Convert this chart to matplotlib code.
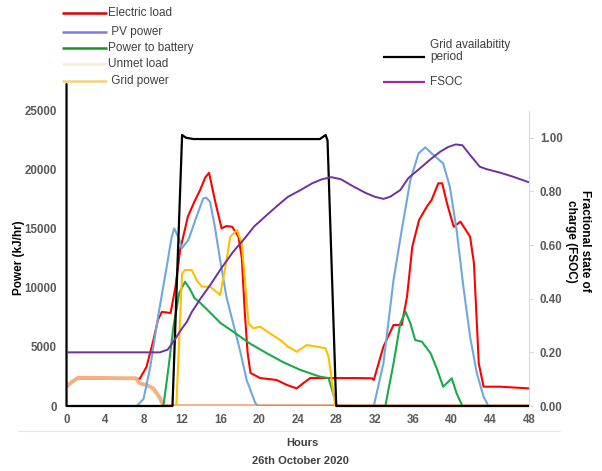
import matplotlib
matplotlib.use("Agg")
import matplotlib.pyplot as plt
from matplotlib.lines import Line2D

plt.rcParams["font.family"] = ["Liberation Sans", "DejaVu Sans"]
plt.rcParams["lines.solid_joinstyle"] = "round"
plt.rcParams["lines.solid_capstyle"] = "round"

# electric load (kJ/hr)
load_h = [0, 0.5, 1.2, 4, 7, 7.6, 8.3, 9.0, 9.5, 9.9, 10.4, 10.8, 11.3, 11.8, 12.6,
          13.3, 13.9, 14.4, 14.8, 15.4, 16.1, 16.6, 17.2, 17.85, 18.2, 18.5, 18.8,
          19.1, 20.1, 21.8, 22.9, 23.9, 24.6, 25.3, 27.4, 30, 31.7, 31.9, 32.9, 33.95,
          34.8, 35.35, 35.9, 36.6, 37.4, 37.9, 38.6, 39.0, 39.5, 40.2, 40.9, 41.9,
          42.3, 42.8, 43.3, 45, 48]
load = [1630, 2000, 2340, 2300, 2300, 2300, 3300, 5500, 7300, 7950, 7900, 7850, 10000,
        13200, 16000, 17300, 18300, 19300, 19700, 17400, 15000, 15200, 15140, 14300,
        12500, 8000, 4500, 2790, 2360, 2200, 1770, 1490, 1940, 2360, 2360, 2360,
        2340, 2200, 5010, 6840, 6840, 9230, 13460, 15710, 16830, 17400, 18810, 18810,
        17120, 15140, 15570, 14300, 12050, 3600, 1630, 1630, 1490]

# PV power
pv_h = [0, 7.3, 8.0, 8.7, 9.5, 10.4, 10.9, 11.17, 11.6, 11.97, 12.65, 13.5, 14.2,
        14.5, 14.9, 15.4, 15.95, 16.6, 17.3, 18.0, 18.7, 19.6, 19.9, 31.9, 32.9,
        33.95, 34.8, 35.7, 36.55, 37.25, 38.1, 39.1, 39.8, 40.5, 41.2, 41.9, 42.6,
        43.3, 43.8, 48]
pv = [0, 0, 600, 3320, 7540, 11760, 14200, 15000, 14300, 13320, 14020, 16000, 17540,
      17600, 17250, 15140, 12330, 9230, 6980, 4730, 2200, 250, 0, 0, 3600, 10640,
      14860, 19090, 21340, 21850, 21200, 20500, 18520, 14860, 10080, 5850, 2760, 790,
      0, 0]

# power to battery
batt_h = [0, 10.06, 10.6, 11.1, 11.7, 12.3, 12.8, 13.3, 13.9, 14.9, 16, 17.3, 19,
          20.8, 22.5, 24.3, 26.3, 27.2, 28.07, 33.1, 33.95, 34.65, 35.2, 35.7, 36.2,
          36.9, 37.8, 38.5, 39.1, 40.0, 40.5, 41.1, 48]
batt = [0, 0, 3320, 6700, 9520, 10500, 9900, 9100, 8700, 7900, 7000, 6280, 5300,
        4450, 3700, 3040, 2480, 2360, 0, 0, 3600, 6980, 7960, 6980, 5570, 5430, 4450,
        3040, 1630, 2340, 1070, 0, 0]

# unmet load
unmet_h = [0, 0.5, 1.2, 6.6, 7.2, 7.6, 8.3, 9.0, 9.7, 10.06, 48]
unmet = [1630, 2000, 2390, 2340, 2340, 1920, 1770, 1490, 675, 0, 0]

# grid power
grid_h = [11.4, 12.0, 12.3, 13.0, 13.5, 14.05, 14.9, 15.95, 16.5, 17.0, 17.7, 18.2,
          18.55, 18.9, 19.4, 20.1, 21.1, 22.2, 23.0, 23.9, 24.95, 26.0, 26.9, 27.2,
          27.9]
grid = [0, 11200, 11490, 11490, 10640, 10080, 10080, 9380, 11760, 14300, 14860, 13740,
        10360, 6980, 6560, 6700, 6140, 5570, 5010, 4590, 5150, 5010, 4870, 4170, 0]

# grid availability (secondary axis)
avail_h = [0, 0, 11.0, 12.0, 12.4, 13.2, 26.3, 26.9, 27.1, 28.0, 48]
avail = [1.2, 0, 0, 1.01, 1.0, 0.995, 0.995, 1.01, 0.99, 0, 0]

# FSOC
soc_h = [0, 9.7, 10.5, 11.1, 12.0, 12.5, 13.0, 13.9, 15, 16, 17.3, 18.5, 19.5, 20.8,
         22, 23, 24.3, 25.5, 26.5, 27.5, 28.5, 29.5, 31, 32, 32.9, 33.6, 34.65, 35.5,
         36.7, 37.8, 38.8, 39.6, 40.4, 41.1, 41.8, 42.9, 43.6, 45, 46.5, 48]
soc = [0.2, 0.2, 0.21, 0.24, 0.29, 0.314, 0.35, 0.40, 0.455, 0.51, 0.575, 0.625, 0.67,
       0.712, 0.75, 0.78, 0.805, 0.83, 0.845, 0.853, 0.845, 0.824, 0.795, 0.78, 0.772,
       0.78, 0.805, 0.85, 0.886, 0.92, 0.948, 0.965, 0.975, 0.972, 0.94, 0.892, 0.883,
       0.87, 0.853, 0.834]

fig = plt.figure(figsize=(6.02, 4.71), dpi=100)
ax = fig.add_axes([0.1105, 0.138, 0.768, 0.656])
ax2 = ax.twinx()

ax.plot(load_h, load, color="#FF0000", lw=1.5)
ax.plot(unmet_h, unmet, color="#F4B183", lw=2.8)
ax.plot(pv_h, pv, color="#6FA8DC", lw=1.5)
ax.plot(batt_h, batt, color="#1AAA4A", lw=1.5)
ax.plot(grid_h, grid, color="#FFC000", lw=1.5)

ax2.plot(avail_h, avail, color="black", lw=1.6, clip_on=False)
ax2.plot(soc_h, soc, color="#7030A0", lw=1.4)

ax.set_xlim(0, 48)
ax.set_ylim(0, 26100)
ax2.set_ylim(0, 1.1517)
ax.set_xticks(range(0, 49, 4))
ax.set_yticks(range(0, 25001, 5000))
ax2.set_yticks([0, 0.2, 0.4, 0.6, 0.8, 1.0])
ax2.set_yticklabels(["%.2f" % v for v in [0, 0.2, 0.4, 0.6, 0.8, 1.0]])

for a in (ax, ax2):
    for s in ("top", "left", "bottom", "right"):
        a.spines[s].set_visible(False)
ax2.spines["right"].set_visible(True)
ax2.spines["right"].set_color("#D9D9D9")
ax2.spines["right"].set_bounds(0, 1.1)

ax.tick_params(axis="x", length=0, pad=6, labelsize=8.3, labelcolor="#595959")
ax.tick_params(axis="y", length=0, pad=7, labelsize=8.3, labelcolor="#595959")
ax2.tick_params(axis="y", length=3, color="#D9D9D9", pad=5, labelsize=8.3,
                labelcolor="#595959")
for lab in ax.get_xticklabels() + ax.get_yticklabels() + ax2.get_yticklabels():
    lab.set_fontweight("bold")

fig.text(19 / 602, 1 - 258 / 471, "Power (kJ/hr)", rotation=90, ha="center",
         va="center", fontsize=8.5, fontweight="bold")
fig.text(578 / 602, 1 - 241 / 471, "Fractional state of\ncharge (FSOC)", rotation=270,
         ha="center", va="center", fontsize=8.5, fontweight="bold",
         multialignment="center", linespacing=1.15)
fig.text(302 / 602, 1 - 443 / 471, "Hours", ha="center", va="center", fontsize=8,
         fontweight="bold", color="#404040")
fig.text(300 / 602, 1 - 461 / 471, "26th October 2020", ha="center", va="center",
         fontsize=8, fontweight="bold", color="#404040")
fig.add_artist(Line2D([18 / 602, 560 / 602], [1 - 431 / 471] * 2, color="#E6E6E6",
                      lw=0.8))

# legends drawn in figure space
legend1 = [("Electric load", "#E00000", 13), (" PV power", "#7B7BE8", 32),
           ("Power to battery", "#17951F", 48), ("Unmet load", "#FBEFD2", 64),
           (" Grid power", "#F5D27A", 81)]
for label, col, y in legend1:
    yf = 1 - y / 471
    fig.add_artist(Line2D([62 / 602, 107 / 602], [yf, yf], color=col, lw=1.8,
                          solid_capstyle="butt"))
    fig.text(108 / 602, yf, label, va="center", ha="left", fontsize=8.5,
             color="#404040")

fig.add_artist(Line2D([383 / 602, 425 / 602], [1 - 57 / 471] * 2, color="black",
                      lw=1.6, solid_capstyle="butt"))
fig.text(430 / 602, 1 - 51 / 471, "Grid availabitity\nperiod", va="center", ha="left",
         fontsize=8.5, color="#404040", linespacing=1.0)
fig.add_artist(Line2D([383 / 602, 425 / 602], [1 - 82 / 471] * 2, color="#9B2C9B",
                      lw=1.6, solid_capstyle="butt"))
fig.text(430 / 602, 1 - 82 / 471, "FSOC", va="center", ha="left", fontsize=8.5,
         color="#404040")

fig.savefig("out.png", dpi=100)
